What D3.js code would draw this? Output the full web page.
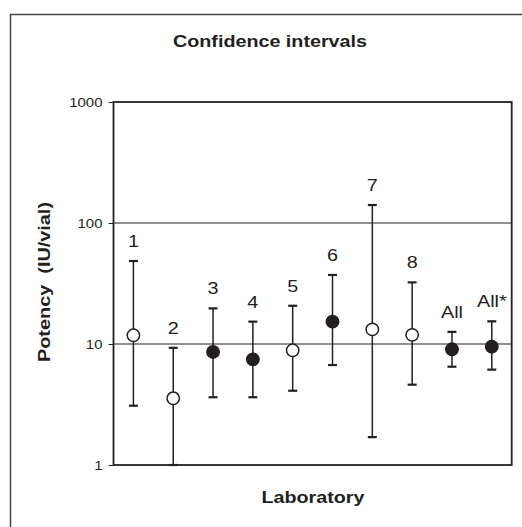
<!DOCTYPE html>
<html>
<head>
<meta charset="utf-8">
<script src="https://cdn.jsdelivr.net/npm/d3@7"></script>
<style>
  body { margin: 0; background: #fff; }
  text { font-family: "Liberation Sans", Arial, sans-serif; fill: #231f20; }
</style>
</head>
<body>
<div id="chart"></div>
<script>
// laboratories, estimates and 95% limits (IU/vial)
var labs   = ["1", "2", "3", "4", "5", "6", "7", "8", "All", "All*"];
var potency = [11.8, 3.56, 8.6, 7.47, 8.87, 15.3, 13.2, 11.9, 9.04, 9.5];
var lower   = [3.09, 1.0, 3.63, 3.63, 4.11, 6.7, 1.70, 4.61, 6.49, 6.14];
var upper   = [48.5, 9.3, 19.7, 15.3, 20.7, 37.2, 140.8, 32.3, 12.6, 15.4];
var filled  = [false, false, true, true, false, true, false, false, true, true];
var yTicks  = [1, 10, 100, 1000];

var width = 522, height = 527;
var margin = { top: 102, left: 113.5, bottom: 62, right: 10.3 };
var ink = "#231f20";
var stretch = 1.2; // the original type is a bit wide

var svg = d3.select("#chart")
    .append("svg")
    .attr("width", width)
    .attr("height", height);

// outer frame (only left and top visible)
svg.append("path")
    .attr("d", "M10.5," + height + "V14.5H" + width)
    .attr("fill", "none")
    .attr("stroke", "#444")
    .attr("stroke-width", 1.5);

var x = d3.scaleBand()
    .domain(labs)
    .range([margin.left, width - margin.right]);

var y = d3.scaleLog()
    .domain([1, 1000])
    .range([height - margin.bottom, margin.top]);

// gridlines
svg.selectAll(".grid")
    .data(yTicks.slice(1, 3))
    .enter()
    .append("line")
    .attr("x1", margin.left)
    .attr("x2", width - margin.right)
    .attr("y1", function(d) { return y(d); })
    .attr("y2", function(d) { return y(d); })
    .attr("stroke", ink)
    .attr("stroke-width", 1);

// y axis
var yAxis = svg.append("g")
    .attr("transform", "translate(" + margin.left + ",0)")
    .call(d3.axisLeft(y).tickValues(yTicks).tickFormat(d3.format("d")).tickSize(5));
yAxis.select(".domain").remove();
yAxis.selectAll("line").attr("stroke", ink);
yAxis.selectAll("text")
    .attr("x", 0)
    .attr("transform", "translate(-11,0) scale(" + stretch + ",1)")
    .style("font-size", "12.5px")
    .style("font-family", "Liberation Sans, Arial, sans-serif")
    .attr("fill", ink);

// plot frame
svg.append("rect")
    .attr("x", margin.left)
    .attr("y", margin.top)
    .attr("width", width - margin.right - margin.left)
    .attr("height", height - margin.bottom - margin.top)
    .attr("fill", "none")
    .attr("stroke", ink)
    .attr("stroke-width", 1.8);

var idx = d3.range(labs.length);
var cx = function(i) { return x(labs[i]) + x.bandwidth() / 2; };

// error bars
svg.selectAll(".bar")
    .data(idx)
    .enter()
    .append("line")
    .attr("x1", cx).attr("x2", cx)
    .attr("y1", function(i) { return y(upper[i]); })
    .attr("y2", function(i) { return y(lower[i]); })
    .attr("stroke", ink)
    .attr("stroke-width", 1.5);

svg.selectAll(".capTop")
    .data(idx)
    .enter()
    .append("line")
    .attr("x1", function(i) { return cx(i) - 4.5; })
    .attr("x2", function(i) { return cx(i) + 4.5; })
    .attr("y1", function(i) { return y(upper[i]); })
    .attr("y2", function(i) { return y(upper[i]); })
    .attr("stroke", ink)
    .attr("stroke-width", 2.2);

svg.selectAll(".capBottom")
    .data(idx)
    .enter()
    .append("line")
    .attr("x1", function(i) { return cx(i) - 4.5; })
    .attr("x2", function(i) { return cx(i) + 4.5; })
    .attr("y1", function(i) { return y(lower[i]); })
    .attr("y2", function(i) { return y(lower[i]); })
    .attr("stroke", ink)
    .attr("stroke-width", 2.2);

// estimates
svg.selectAll(".dot")
    .data(idx)
    .enter()
    .append("circle")
    .attr("cx", cx)
    .attr("cy", function(i) { return y(potency[i]); })
    .attr("r", 6.2)
    .attr("fill", function(i) { return filled[i] ? ink : "#fff"; })
    .attr("stroke", ink)
    .attr("stroke-width", 1.5);

// lab labels above the bars
svg.selectAll(".lab")
    .data(idx)
    .enter()
    .append("text")
    .attr("transform", function(i) {
        return "translate(" + cx(i) + "," + (y(upper[i]) - 14) + ") scale(" + stretch + ",1)";
    })
    .style("text-anchor", "middle")
    .style("font-size", "16.5px")
    .text(function(i) { return labs[i]; });

// titles
svg.append("text")
    .attr("x", 270)
    .attr("y", 47)
    .attr("textLength", 194)
    .attr("lengthAdjust", "spacingAndGlyphs")
    .style("text-anchor", "middle")
    .style("font-size", "16px")
    .style("font-weight", "bold")
    .text("Confidence intervals");

svg.append("text")
    .attr("x", 313)
    .attr("y", 503)
    .attr("textLength", 103)
    .attr("lengthAdjust", "spacingAndGlyphs")
    .style("text-anchor", "middle")
    .style("font-size", "16px")
    .style("font-weight", "bold")
    .text("Laboratory");

svg.append("text")
    .attr("transform", "translate(50,282) rotate(-90)")
    .attr("textLength", 160)
    .attr("lengthAdjust", "spacingAndGlyphs")
    .attr("xml:space", "preserve")
    .style("text-anchor", "middle")
    .style("font-size", "16px")
    .style("font-weight", "bold")
    .text("Potency  (IU/vial)");
</script>
</body>
</html>
